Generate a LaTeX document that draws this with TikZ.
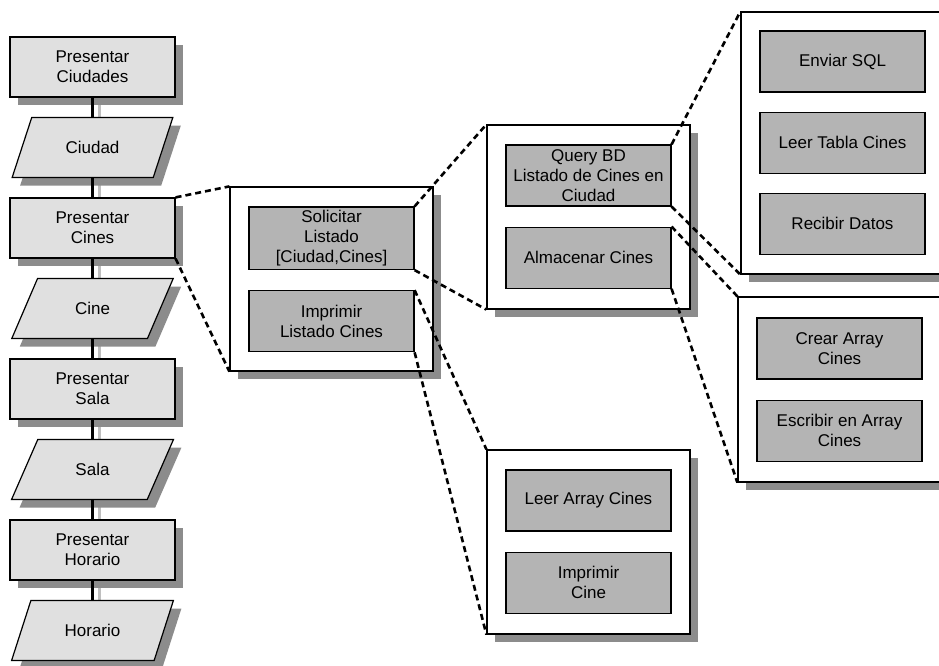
\documentclass[tikz,border=0pt]{standalone}
\usepackage{fontspec}
\setmainfont{Liberation Sans}
\usetikzlibrary{positioning,shapes.geometric,shadows,backgrounds}

\definecolor{flowfill}{HTML}{E0E0E0}
\definecolor{taskfill}{HTML}{B4B4B4}
\definecolor{shadegray}{HTML}{8C8C8C}

\tikzset{
    drop/.style={drop shadow={shadow xshift=8pt, shadow yshift=-8pt, fill=shadegray, opacity=1}},
    flowbox/.style={draw, line width=1.2pt, fill=flowfill, minimum width=165pt, minimum height=60pt, align=center, drop},
    flowdata/.style={trapezium, trapezium left angle=63, trapezium right angle=117, trapezium stretches=true,
        draw, line width=1.2pt, fill=flowfill, minimum width=162pt, minimum height=60pt, align=center, drop},
    panel/.style={draw, line width=1.2pt, fill=white, minimum width=203pt, drop},
    task/.style={draw, line width=1.2pt, fill=taskfill, minimum width=165pt, minimum height=61pt, align=center},
    zoomline/.style={line width=2.6pt, dash pattern=on 6pt off 4pt},
    flowline/.style={line width=2.8pt},
    flowshade/.style={line width=2.8pt, draw=black!25}
}

\begin{document}
\begin{tikzpicture}[x=1pt, y=-1pt, node distance=19.3pt, font=\fontsize{17}{20}\selectfont]
                    \useasboundingbox (0,0) rectangle (939,666);
                    \clip (0,0) rectangle (939,666);

                    \node[flowbox] (pciudades) at (92.5,67) {Presentar\\Ciudades};
                    \node[flowdata, below=of pciudades] (ciudad) {Ciudad};
                    \node[flowbox, below=of ciudad] (pcines) {Presentar\\Cines};
                    \node[flowdata, below=of pcines] (cine) {Cine};
                    \node[flowbox, below=of cine] (psala) {Presentar\\Sala};
                    \node[flowdata, below=of psala] (sala) {Sala};
                    \node[flowbox, below=of sala] (phorario) {Presentar\\Horario};
                    \node[flowdata, below=of phorario] (horario) {Horario};

                    \foreach \a/\b in {pciudades/ciudad, ciudad/pcines, pcines/cine, cine/psala,
                                       psala/sala, sala/phorario, phorario/horario} {
                        \begin{pgfonlayer}{background}
                            \draw[flowshade] ([xshift=7pt]\a.center |- \a.south) -- ([xshift=7pt]\a.center |- \b.north);
                        \end{pgfonlayer}
                        \draw[flowline] (\a.center |- \a.south) -- (\a.center |- \b.north);
                    }

                    \node[panel, minimum height=184pt] (listado) at (331.5,279) {};
                    \node[task, below=20pt of listado.north] (solicitar) {Solicitar\\Listado\\{[Ciudad,Cines]}};
                    \node[task, below=20pt of solicitar] (imprimir) {Imprimir\\Listado Cines};

                    \node[panel, minimum height=184pt] (consulta) at (588.5,217) {};
                    \node[task, below=20pt of consulta.north] (query) {Query BD\\Listado de Cines en\\Ciudad};
                    \node[task, below=20pt of query] (almacenar) {Almacenar Cines};

                    \node[panel, minimum height=184pt] (impresion) at (588.5,542) {};
                    \node[task, below=20pt of impresion.north] (leer) {Leer Array Cines};
                    \node[task, below=20pt of leer] (imprimircine) {Imprimir\\Cine};

                    \node[panel, minimum height=262pt] (basedatos) at (842.5,143) {};
                    \node[task, below=19pt of basedatos.north] (enviar) {Enviar SQL};
                    \node[task, below=19pt of enviar] (tabla) {Leer Tabla Cines};
                    \node[task, below=19pt of tabla] (recibir) {Recibir Datos};

                    \node[panel, minimum height=185pt] (arreglo) at (839.5,389.5) {};
                    \node[task, below=21pt of arreglo.north] (crear) {Crear Array\\Cines};
                    \node[task, below=20pt of crear] (escribir) {Escribir en Array\\Cines};

                    \foreach \a/\b in {pcines/listado, solicitar/consulta, imprimir/impresion,
                                       query/basedatos, almacenar/arreglo} {
                        \draw[zoomline] (\a.north east) -- (\b.north west);
                        \draw[zoomline] (\a.south east) -- (\b.south west);
                    }
                \end{tikzpicture}
\end{document}
